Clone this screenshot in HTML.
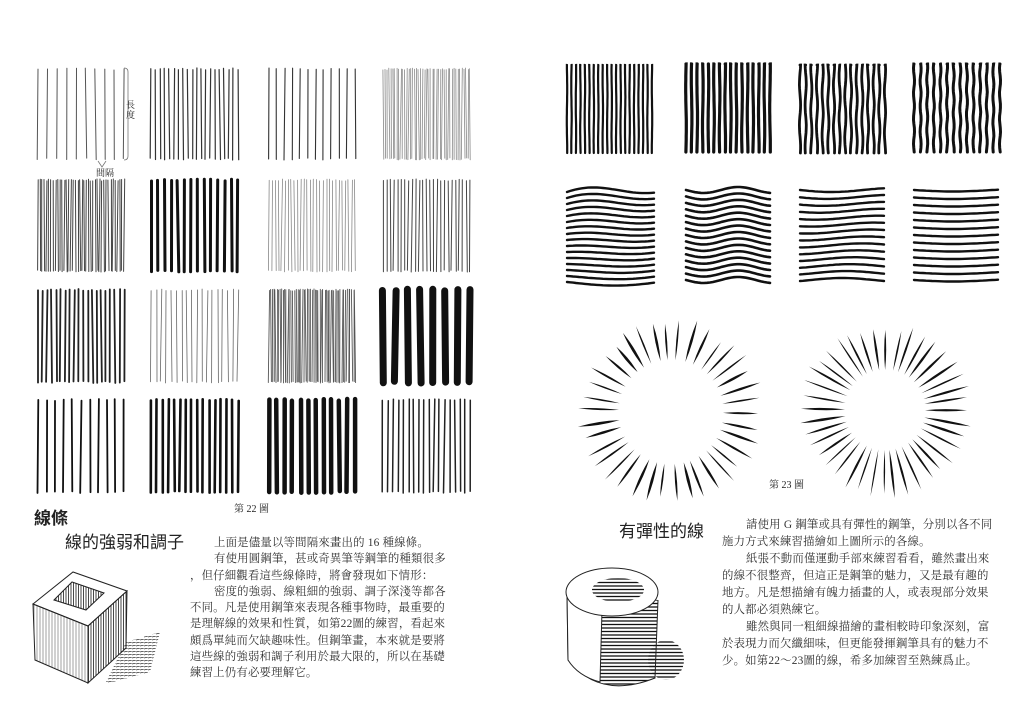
<!DOCTYPE html>
<html><head><meta charset="utf-8">
<style>
body{margin:0;background:#fff;width:1024px;height:723px;overflow:hidden;position:relative;font-family:"Liberation Serif","Noto Serif CJK SC","Noto Sans CJK TC",serif;color:#222}
.t{position:absolute;white-space:nowrap}
.p{position:absolute;font-size:11.4px;line-height:17px;letter-spacing:0.2px;color:#333;white-space:nowrap}
.h{font-family:"Liberation Sans","Noto Sans CJK TC",sans-serif;}
svg{position:absolute;left:0;top:0}
</style></head><body>
<svg id="s" width="1024" height="723" viewBox="0 0 1024 723"></svg>
<div class="t" style="left:126px;top:100px;font-size:9px;line-height:10px;width:10px;white-space:normal">長度</div>
<div class="t" style="left:96px;top:166px;font-size:9px">間隔</div>
<div class="t h" style="left:34px;top:504px;font-size:17px;font-weight:bold">線條</div>
<div class="t h" style="left:65px;top:528px;font-size:17px">線的強弱和調子</div>
<div class="t" style="left:234px;top:500px;font-size:10px">第 22 圖</div>
<div class="p" style="left:190px;top:535px;width:270px;line-height:16.3px">
<div style="padding-left:24px">上面是儘量以等間隔來畫出的 16 種線條。</div>
<div style="padding-left:24px">有使用圓鋼筆，甚或奇異筆等鋼筆的種類很多</div>
<div>，但仔細觀看這些線條時，將會發現如下情形：</div>
<div style="padding-left:24px">密度的強弱、線粗細的強弱、調子深淺等都各</div>
<div>不同。凡是使用鋼筆來表現各種事物時，最重要的</div>
<div>是理解線的效果和性質，如第22圖的練習，看起來</div>
<div>頗爲單純而欠缺趣味性。但鋼筆畫，本來就是要將</div>
<div>這些線的強弱和調子利用於最大限的，所以在基礎</div>
<div>練習上仍有必要理解它。</div>
</div>
<div class="t" style="left:769px;top:476px;font-size:10px">第 23 圖</div>
<div class="t h" style="left:619px;top:517px;font-size:17px">有彈性的線</div>
<div class="p" style="left:722px;top:517px;width:285px">
<div style="padding-left:24px">請使用 G 鋼筆或具有彈性的鋼筆，分別以各不同</div>
<div>施力方式來練習描繪如上圖所示的各線。</div>
<div style="padding-left:24px">紙張不動而僅運動手部來練習看看，雖然畫出來</div>
<div>的線不很整齊，但這正是鋼筆的魅力，又是最有趣的</div>
<div>地方。凡是想描繪有魄力插畫的人，或表現部分效果</div>
<div>的人都必須熟練它。</div>
<div style="padding-left:24px">雖然與同一粗細線描繪的畫相較時印象深刻，富</div>
<div>於表現力而欠纖細味，但更能發揮鋼筆具有的魅力不</div>
<div>少。如第22～23圖的線，希多加練習至熟練爲止。</div>
</div>
<script>
var s=document.getElementById('s'),o='';
var seed=7;function r(){seed=(seed*9301+49297)%233280;return seed/233280;}
function L(x1,y1,x2,y2,w,c){o+='<line x1="'+x1.toFixed(1)+'" y1="'+y1.toFixed(1)+'" x2="'+x2.toFixed(1)+'" y2="'+y2.toFixed(1)+'" stroke="'+c+'" stroke-width="'+w+'" stroke-linecap="round"/>';}
function panel(x0,x1,y0,y1,n,w,c){for(var i=0;i<n;i++){var x=x0+(x1-x0)*i/(n-1);L(x+(r()-.5)*1.5,y0+r()*2,x+(r()-.5)*2,y1-r()*2,w,c);}}
var cols=[[38,124],[151,238],[269,355],[383,470]],rows=[[68,160],[179,272],[289,383],[399,493]];
var P=[[10,1,'#555'],[20,1.2,'#333'],[12,1.1,'#333'],[45,0.8,'#888'],
[40,1,'#444'],[14,3,'#111'],[28,0.8,'#888'],[25,1,'#444'],
[20,1.8,'#222'],[18,0.8,'#666'],[55,0.9,'#555'],[8,7,'#111'],
[11,1.8,'#111'],[16,2.6,'#111'],[12,4.5,'#111'],[18,1.5,'#222']];
for(var k=0;k<16;k++){var c=cols[k%4],rw=rows[Math.floor(k/4)],p=P[k];panel(c[0],c[1],rw[0],rw[1],p[0],p[1],p[2]);}
o+='<path d="M124 68 q4 0 4 4 v84 q0 4 -4 4 M98 161 l4 6 l4 -6" fill="none" stroke="#777" stroke-width="0.8"/>';
function vwig(x0,x1,y0,y1,n,w,amp,f){for(var i=0;i<n;i++){var x=x0+(x1-x0)*i/(n-1),d='M'+x+' '+y0;var ph=r()*6;for(var y=y0;y<=y1;y+=4){d+=' L'+(x+amp*Math.sin(y*f+ph)).toFixed(1)+' '+y;}o+='<path d="'+d+'" fill="none" stroke="#111" stroke-width="'+w+'" stroke-linecap="round"/>';}}
vwig(567,652,65,155,20,2.2,0.2,0.1);vwig(686,770,64,154,16,3.2,0.3,0.08);vwig(800,885,65,155,16,2.8,0.6,0.15);vwig(914,1000,64,155,14,3,0.5,0.25);
function hw(x0,x1,y0,y1,n,w,fn){for(var i=0;i<n;i++){var y=y0+(y1-y0)*i/(n-1),d='';for(var x=x0;x<=x1;x+=3){var yy=y+fn(x,i);d+=(d?' L':'M')+x+' '+yy.toFixed(1);}o+='<path d="'+d+'" fill="none" stroke="#111" stroke-width="'+w+'" stroke-linecap="round"/>';}}
hw(567,655,192,282,16,2.4,function(x,i){var t=(x-567)/88;return -14*(1-t)*(1-i/16)*Math.sin(t*3)+4*Math.sin(t*3);});
hw(686,770,190,280,15,2.6,function(x,i){return 3*Math.sin((x-686)*0.09);});
hw(800,885,190,280,14,2.4,function(x,i){return 2*Math.sin((x-800)*0.05+i*0.2);});
hw(914,1000,190,280,13,2.4,function(x,i){return 1.5*Math.sin((x-914)*0.04);});
function sun(cx,cy,ri,ro,n,w){for(var i=0;i<n;i++){var a=i/n*2*Math.PI+r()*0.05,c=Math.cos(a),sn=Math.sin(a),rr=ro+(r()-.5)*10,px=-sn,py=c,ww=w*(0.6+r()*0.6);
var ax=cx+c*ri,ay=cy+sn*ri,bx=cx+c*rr,by=cy+sn*rr,mx=cx+c*(ri+rr)/2,my=cy+sn*(ri+rr)/2;
o+='<path d="M'+ax.toFixed(1)+' '+ay.toFixed(1)+' Q'+(mx+px*ww).toFixed(1)+' '+(my+py*ww).toFixed(1)+' '+bx.toFixed(1)+' '+by.toFixed(1)+' Q'+(mx-px*ww).toFixed(1)+' '+(my-py*ww).toFixed(1)+' '+ax.toFixed(1)+' '+ay.toFixed(1)+'Z" fill="#111"/>';}}
sun(671,412,52,90,38,2.4);sun(885,410,40,84,40,2.2);
o+='<defs><pattern id="hh" width="4" height="3" patternUnits="userSpaceOnUse"><line x1="0" y1="1" x2="4" y2="0" stroke="#333" stroke-width="0.8"/></pattern><pattern id="vv" width="3" height="4" patternUnits="userSpaceOnUse"><line x1="1" y1="0" x2="1" y2="4" stroke="#777" stroke-width="0.7"/></pattern><pattern id="vd" width="2.5" height="4" patternUnits="userSpaceOnUse"><line x1="1" y1="0" x2="1" y2="4" stroke="#333" stroke-width="0.9"/></pattern><pattern id="hz" width="4" height="3.5" patternUnits="userSpaceOnUse"><line x1="0" y1="1.5" x2="4" y2="1.5" stroke="#111" stroke-width="1.3"/></pattern></defs>';
o+='<polygon points="126,642 160,632 150,672 105,684" fill="url(#hh)"/>';
o+='<polygon points="33,604 73,572 127,591 88,626" fill="#fff" stroke="#222"/>';
o+='<polygon points="54,600 72,582 104,593 86,610" fill="url(#vd)" stroke="#222"/>';
o+='<polygon points="33,604 88,626 88,683 35,660" fill="url(#vv)" stroke="#222"/>';
o+='<polygon points="88,626 127,591 126,648 88,683" fill="url(#vd)" stroke="#222"/>';
o+='<ellipse cx="666" cy="660" rx="18" ry="20" fill="url(#hz)"/>';
o+='<path d="M567 592 L568 660 Q600 700 655 678 L658 600" fill="url(#hz)" stroke="#222"/>';
o+='<path d="M567 592 L568 660 Q578 676 600 682 L602 610 Z" fill="#fff" stroke="#222"/>';
o+='<ellipse cx="612" cy="592" rx="46" ry="24" fill="#fff" stroke="#222"/>';
o+='<ellipse cx="618" cy="590" rx="26" ry="12" fill="url(#hz)"/>';
s.innerHTML=o;
</script>
</body></html>
